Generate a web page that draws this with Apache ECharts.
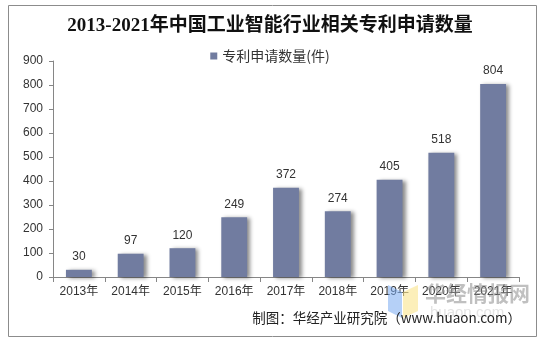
<!DOCTYPE html>
<html><head><meta charset="utf-8">
<script src="https://cdn.jsdelivr.net/npm/echarts@6/dist/echarts.min.js"></script>
<style>html,body{margin:0;padding:0;background:#fff}#c{width:540px;height:339px}</style>
</head><body><div id="c"></div>
<script>
const categories = ['2013年','2014年','2015年','2016年','2017年','2018年','2019年','2020年','2021年'];
const values = [30, 97, 120, 249, 372, 274, 405, 518, 804];
const yTicks = [0, 100, 200, 300, 400, 500, 600, 700, 800, 900];
const seriesName = '专利申请数量(件)';
const titleText = '2013-2021年中国工业智能行业相关专利申请数量';
const sourceText = '制图：华经产业研究院（www.huaon.com）';

const chart = echarts.init(document.getElementById('c'), null, {renderer:'canvas'});
chart.setOption({
  animation:false,
  title:{text:titleText,left:'center',top:12,textStyle:{fontFamily:'"Liberation Serif","Noto Sans CJK SC",serif',fontWeight:'bold',fontSize:19,color:'#111'}},
  legend:{data:[seriesName],top:44,left:'center',icon:'rect',itemWidth:7,itemHeight:7,itemGap:3,
    textStyle:{fontFamily:'"Noto Sans CJK SC",sans-serif',fontSize:14,color:'#333'}},
  grid:{left:53,right:21,top:61,bottom:62},
  xAxis:{type:'category',data:categories,
    axisLine:{lineStyle:{color:'#868686'}},
    axisTick:{show:true,alignWithLabel:false,length:5,lineStyle:{color:'#868686'}},
    axisLabel:{margin:9,fontFamily:'"Liberation Sans","Noto Sans CJK SC",sans-serif',fontSize:12,color:'#333'}},
  yAxis:{type:'value',min:yTicks[0],max:yTicks[yTicks.length-1],interval:100,
    axisLine:{show:true,lineStyle:{color:'#868686'}},
    axisTick:{show:true,length:4,lineStyle:{color:'#868686'}},
    splitLine:{show:false},
    axisLabel:{margin:10,fontFamily:'"Liberation Sans",sans-serif',fontSize:12,color:'#333'}},
  series:[{name:seriesName,type:'bar',data:values,barWidth:'50%',
    itemStyle:{color:'#717CA0',shadowColor:'rgba(0,0,0,0.45)',shadowBlur:4,shadowOffsetX:3,shadowOffsetY:1},
    label:{show:true,position:'top',distance:7,fontFamily:'"Liberation Sans",sans-serif',fontSize:12,color:'#333'}}],
  graphic:[
    {type:'rect',left:6,top:3,shape:{width:528,height:331},style:{fill:'none',stroke:'#8c8c8c',lineWidth:1},silent:true,z:-1},
    {type:'polygon',shape:{points:[[388,285],[402,292],[402,318],[388,311]]},style:{fill:'rgba(120,170,240,0.55)'},z:10},
    {type:'polygon',shape:{points:[[403,292],[418,285],[418,311],[403,318]]},style:{fill:'rgba(250,225,130,0.55)'},z:10},
    {type:'text',left:425,top:283,style:{text:'华经情报网',font:'bold 21px "Noto Sans CJK SC",sans-serif',fill:'rgba(140,140,140,0.55)'},z:10},
    {type:'text',left:430,top:305,style:{text:'huaon.com',font:'15px "Liberation Sans",sans-serif',fill:'rgba(200,200,200,0.5)',letterSpacing:3},z:9},
    {type:'text',right:19,top:311,style:{text:sourceText,font:'13.5px "Noto Sans CJK SC",sans-serif',fill:'#222'},z:11}
  ]
});
</script></body></html>
